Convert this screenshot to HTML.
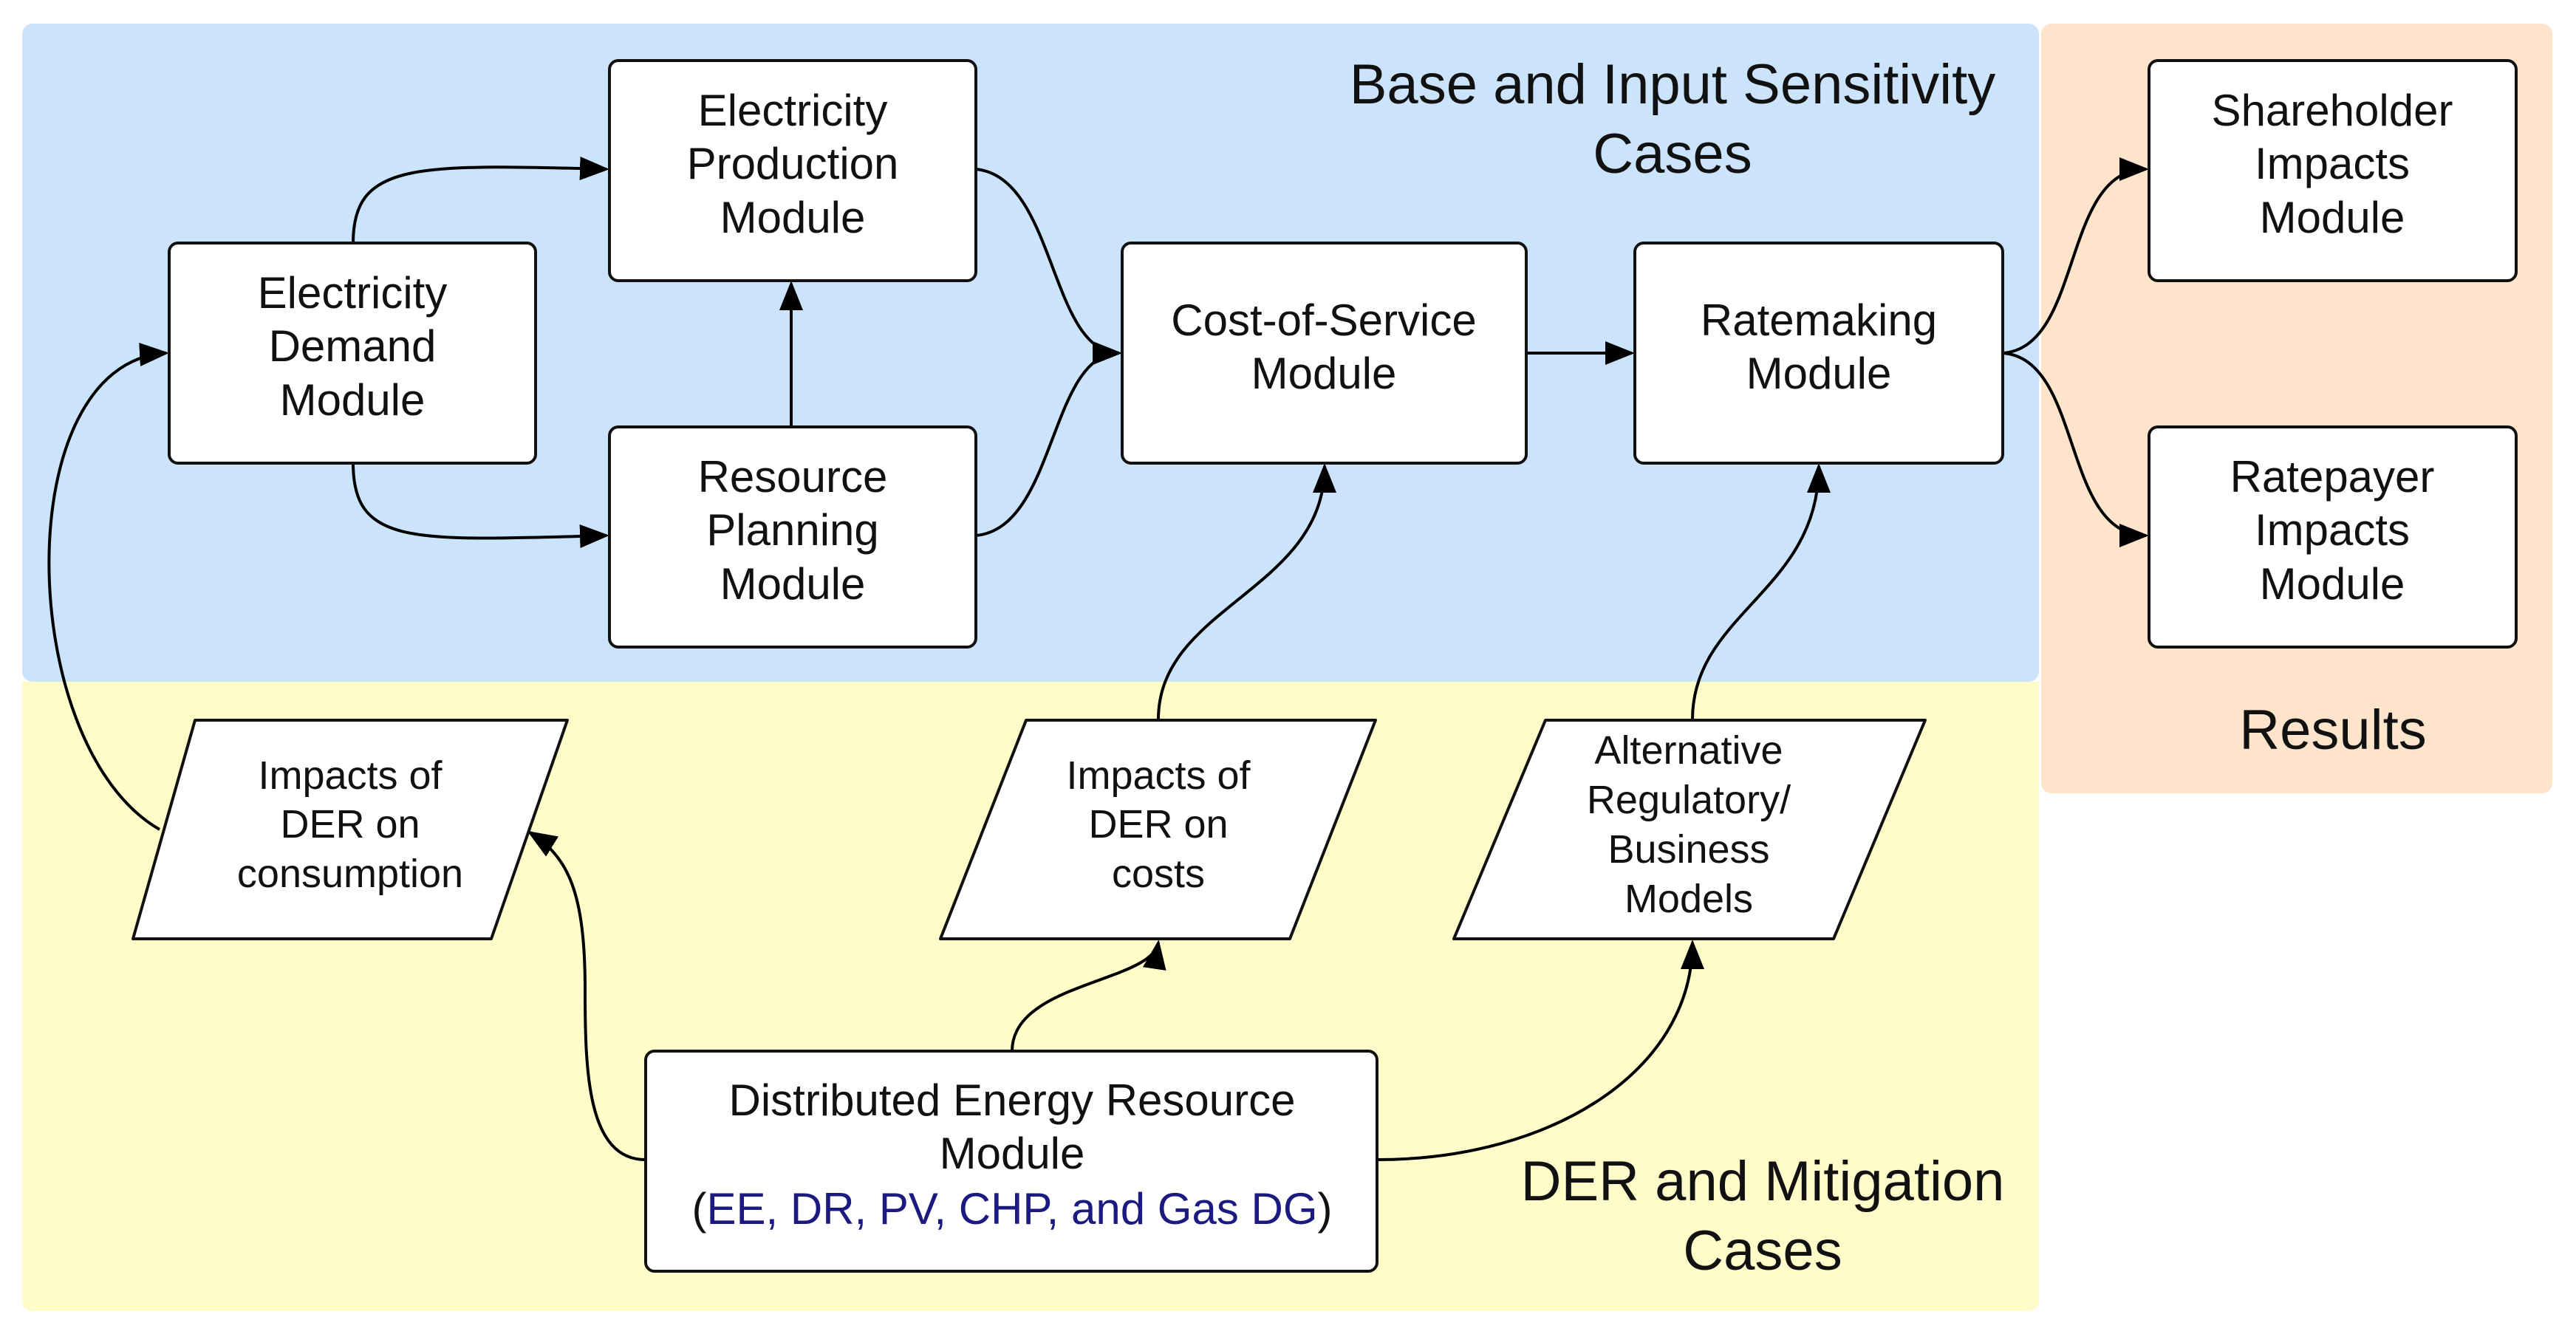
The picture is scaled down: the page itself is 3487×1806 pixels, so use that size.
<!DOCTYPE html>
<html><head><meta charset="utf-8"><style>
html,body{margin:0;padding:0;background:#fff}
svg{display:block}
text{font-family:"Liberation Sans",sans-serif;fill:#111;text-anchor:middle}
.b{font-size:60px}
.p{font-size:54px}
.t{font-size:76px}
</style></head><body>
<svg width="3487" height="1806" viewBox="0 0 3487 1806" xmlns="http://www.w3.org/2000/svg">
<defs>
<marker id="a" markerWidth="10" markerHeight="8" refX="9" refY="4" orient="auto" markerUnits="strokeWidth">
<path d="M0,0 L10,4 L0,8 z" fill="#000"/>
</marker>
</defs>
<rect x="30" y="32" width="2730" height="891" rx="14" fill="#cce4fb"/>
<rect x="30" y="923" width="2730" height="852" rx="14" fill="#fffcca"/>
<rect x="30" y="923" width="2730" height="30" fill="#fffcca"/>
<rect x="2763" y="32" width="692" height="1042" rx="14" fill="#fde4cb"/>

<text class="t" x="2264" y="140">Base and Input Sensitivity</text>
<text class="t" x="2264" y="234">Cases</text>
<text class="t" x="3158" y="1014">Results</text>
<text class="t" x="2386" y="1625">DER and Mitigation</text>
<text class="t" x="2386" y="1719">Cases</text>

<g fill="none" stroke="#000" stroke-width="4">
<path d="M478 329 C478 220 560 222 821 229" marker-end="url(#a)"/>
<path d="M478 627 C478 740 560 732 821 725" marker-end="url(#a)"/>
<path d="M1071 578 L1071 384" marker-end="url(#a)"/>
<path d="M1321 229 C1430 240 1420 478 1515 478" marker-end="url(#a)"/>
<path d="M1321 725 C1430 715 1420 478 1515 478" marker-end="url(#a)"/>
<path d="M2066 478 L2209 478" marker-end="url(#a)"/>
<path d="M2711 478 C2820 470 2790 229 2905 229" marker-end="url(#a)"/>
<path d="M2711 478 C2820 486 2790 725 2905 725" marker-end="url(#a)"/>
<path d="M216 1123 C20 1010 10 490 225 478" marker-end="url(#a)"/>
<path d="M874 1570 C795 1570 792 1450 792 1340 C792 1210 770 1160 717 1127" marker-end="url(#a)"/>
<path d="M1370 1423 C1370 1330 1560 1330 1568 1276" marker-end="url(#a)"/>
<path d="M1568 974 C1568 820 1793 800 1793 631" marker-end="url(#a)"/>
<path d="M1864 1570 C2100 1570 2291 1450 2291 1276" marker-end="url(#a)"/>
<path d="M2291 974 C2291 830 2462 800 2462 631" marker-end="url(#a)"/>
</g>

<g fill="#fff" stroke="#111" stroke-width="4">
<rect x="825" y="82" width="496" height="298" rx="12"/>
<rect x="229" y="329" width="496" height="298" rx="12"/>
<rect x="825" y="578" width="496" height="298" rx="12"/>
<rect x="1519" y="329" width="547" height="298" rx="12"/>
<rect x="2213" y="329" width="498" height="298" rx="12"/>
<rect x="2909" y="82" width="497" height="298" rx="12"/>
<rect x="2909" y="578" width="497" height="298" rx="12"/>
<rect x="874" y="1423" width="990" height="298" rx="12"/>
<path d="M264 975 L768 975 L665 1271 L180 1271 Z" stroke-linejoin="round"/>
<path d="M1389 975 L1862 975 L1746 1271 L1273 1271 Z" stroke-linejoin="round"/>
<path d="M2092 975 L2606 975 L2482 1271 L1968 1271 Z" stroke-linejoin="round"/>
</g>

<text class="b" x="1073" y="170">Electricity</text>
<text class="b" x="1073" y="242">Production</text>
<text class="b" x="1073" y="315">Module</text>
<text class="b" x="477" y="417">Electricity</text>
<text class="b" x="477" y="489">Demand</text>
<text class="b" x="477" y="562">Module</text>
<text class="b" x="1073" y="666">Resource</text>
<text class="b" x="1073" y="738">Planning</text>
<text class="b" x="1073" y="811">Module</text>
<text class="b" x="1792" y="454">Cost-of-Service</text>
<text class="b" x="1792" y="526">Module</text>
<text class="b" x="2462" y="454">Ratemaking</text>
<text class="b" x="2462" y="526">Module</text>
<text class="b" x="3157" y="170">Shareholder</text>
<text class="b" x="3157" y="242">Impacts</text>
<text class="b" x="3157" y="315">Module</text>
<text class="b" x="3157" y="666">Ratepayer</text>
<text class="b" x="3157" y="738">Impacts</text>
<text class="b" x="3157" y="811">Module</text>
<text class="b" x="1370" y="1510">Distributed Energy Resource</text>
<text class="b" x="1370" y="1582">Module</text>
<text class="b" x="1370" y="1657">(<tspan fill="#1a1a80">EE, DR, PV, CHP, and Gas DG</tspan>)</text>

<text class="p" x="474" y="1068">Impacts of</text>
<text class="p" x="474" y="1134">DER on</text>
<text class="p" x="474" y="1201">consumption</text>
<text class="p" x="1568" y="1068">Impacts of</text>
<text class="p" x="1568" y="1134">DER on</text>
<text class="p" x="1568" y="1201">costs</text>
<text class="p" x="2286" y="1034">Alternative</text>
<text class="p" x="2286" y="1101">Regulatory/</text>
<text class="p" x="2286" y="1168">Business</text>
<text class="p" x="2286" y="1235">Models</text>
</svg>
</body></html>
